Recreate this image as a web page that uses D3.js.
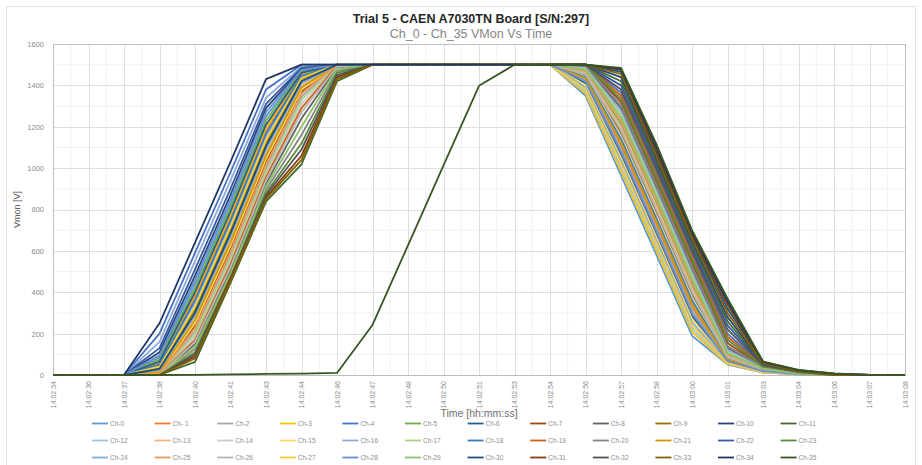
<!DOCTYPE html>
<html>
<head>
<meta charset="utf-8">
<script src="https://cdn.jsdelivr.net/npm/d3@7"></script>
<style>
  body { margin: 0; background: #fff; }
  text { font-family: "Liberation Sans", Arial, sans-serif; }
</style>
</head>
<body>
<div id="chart"></div>
<script>
// time stamps on the category axis
var times = ["14:02:34", "14:02:36", "14:02:37", "14:02:38", "14:02:40", "14:02:41", "14:02:43",
    "14:02:44", "14:02:46", "14:02:47", "14:02:48", "14:02:50", "14:02:51", "14:02:53", "14:02:54",
    "14:02:56", "14:02:57", "14:02:58", "14:03:00", "14:03:01", "14:03:03", "14:03:04", "14:03:06",
    "14:03:07", "14:03:08"];

var channelNames = ["Ch-0", "Ch- 1", "Ch-2", "Ch-3", "Ch-4", "Ch-5", "Ch-6", "Ch-7", "Ch-8", "Ch-9",
    "Ch-10", "Ch-11", "Ch-12", "Ch-13", "Ch-14", "Ch-15", "Ch-16", "Ch-17", "Ch-18", "Ch-19",
    "Ch-20", "Ch-21", "Ch-22", "Ch-23", "Ch-24", "Ch-25", "Ch-26", "Ch-27", "Ch-28", "Ch-29",
    "Ch-30", "Ch-31", "Ch-32", "Ch-33", "Ch-34", "Ch-35"];

// VMon [V], one row per channel
var vmon = [
    [0,0,0,85,440,830,1250,1470,1500,1500,1500,1500,1500,1500,1500,1350,965,580,190,50,12,3,0,0,0],
    [0,0,0,55,375,760,1180,1450,1500,1500,1500,1500,1500,1500,1500,1430,1110,725,330,72,21,5,0,0,0],
    [0,0,0,3,210,580,1000,1345,1500,1500,1500,1500,1500,1500,1500,1425,1095,710,315,70,20,5,0,0,0],
    [0,0,0,60,390,775,1195,1455,1500,1500,1500,1500,1500,1500,1500,1360,985,600,210,52,13,3,0,0,0],
    [0,0,0,200,590,980,1380,1500,1500,1500,1500,1500,1500,1500,1500,1500,1365,980,585,200,46,13,0,0,0],
    [0,0,0,75,420,810,1230,1465,1500,1500,1500,1500,1500,1500,1500,1465,1215,830,435,95,28,6,0,0,0],
    [0,0,0,65,400,790,1210,1460,1500,1500,1500,1500,1500,1500,1500,1410,1065,680,285,65,18,4,0,0,0],
    [0,0,0,8,240,610,1030,1370,1500,1500,1500,1500,1500,1500,1500,1500,1320,935,540,155,40,10,0,0,0],
    [0,0,0,0,150,505,925,1240,1485,1500,1500,1500,1500,1500,1500,1490,1290,905,510,130,36,8,0,0,0],
    [0,0,0,35,315,700,1120,1430,1500,1500,1500,1500,1500,1500,1500,1450,1170,785,390,83,25,6,0,0,0],
    [0,0,0,110,480,870,1290,1480,1500,1500,1500,1500,1500,1500,1500,1500,1440,1040,645,280,54,17,0,0,0],
    [0,0,0,0,63,445,838,1018,1420,1500,1500,1500,1500,1500,1500,1500,1420,1025,630,260,52,16,0,0,0],
    [0,0,0,45,345,730,1150,1440,1500,1500,1500,1500,1500,1500,1500,1370,1005,620,225,55,14,3,0,0,0],
    [0,0,0,20,280,655,1075,1400,1500,1500,1500,1500,1500,1500,1500,1460,1200,815,420,90,27,6,0,0,0],
    [0,0,0,0,185,550,970,1310,1500,1500,1500,1500,1500,1500,1500,1445,1155,770,375,80,24,5,0,0,0],
    [0,0,0,10,250,625,1045,1380,1500,1500,1500,1500,1500,1500,1500,1400,1050,665,270,62,17,4,0,0,0],
    [0,0,0,160,550,940,1340,1490,1500,1500,1500,1500,1500,1500,1500,1485,1275,890,495,120,34,8,0,0,0],
    [0,0,0,0,200,565,985,1330,1500,1500,1500,1500,1500,1500,1500,1480,1260,875,480,110,32,7,0,0,0],
    [0,0,0,50,360,745,1165,1445,1500,1500,1500,1500,1500,1500,1500,1440,1140,755,360,78,23,5,0,0,0],
    [0,0,0,0,170,535,955,1290,1495,1500,1500,1500,1500,1500,1500,1500,1350,965,570,185,44,12,0,0,0],
    [0,0,0,0,125,480,895,1160,1470,1500,1500,1500,1500,1500,1500,1495,1305,920,525,140,38,9,0,0,0],
    [0,0,0,15,265,640,1060,1390,1500,1500,1500,1500,1500,1500,1500,1435,1125,740,345,75,22,5,0,0,0],
    [0,0,0,130,510,900,1310,1485,1500,1500,1500,1500,1500,1500,1500,1500,1400,1010,615,240,50,15,0,0,0],
    [0,0,0,0,110,470,880,1120,1460,1500,1500,1500,1500,1500,1500,1500,1335,950,555,170,42,11,0,0,0],
    [0,0,0,25,290,670,1090,1410,1500,1500,1500,1500,1500,1500,1500,1390,1035,650,255,60,16,4,0,0,0],
    [0,0,0,5,225,595,1015,1360,1500,1500,1500,1500,1500,1500,1500,1470,1230,845,450,100,30,7,0,0,0],
    [0,0,0,0,160,520,940,1270,1490,1500,1500,1500,1500,1500,1500,1455,1185,800,405,86,26,6,0,0,0],
    [0,0,0,40,330,715,1135,1435,1500,1500,1500,1500,1500,1500,1500,1380,1020,635,240,57,15,4,0,0,0],
    [0,0,0,95,460,850,1270,1475,1500,1500,1500,1500,1500,1500,1500,1420,1080,695,300,67,19,4,0,0,0],
    [0,0,0,0,135,490,910,1200,1480,1500,1500,1500,1500,1500,1500,1475,1245,860,465,105,31,7,0,0,0],
    [0,0,0,30,300,685,1105,1420,1500,1500,1500,1500,1500,1500,1500,1500,1465,1070,670,320,60,20,5,0,0],
    [0,0,0,0,90,470,860,1060,1440,1500,1500,1500,1500,1500,1500,1500,1475,1085,680,340,62,22,6,0,0],
    [0,0,0,0,100,460,870,1090,1450,1500,1500,1500,1500,1500,1500,1500,1380,995,600,220,48,14,0,0,0],
    [0,0,0,0,80,455,850,1040,1430,1500,1500,1500,1500,1500,1500,1500,1455,1055,660,300,57,18,0,0,0],
    [0,0,0,250,640,1030,1430,1500,1500,1500,1500,1500,1500,1500,1500,1500,1480,1100,690,355,64,24,7,0,0],
    [0,0,0,0,1,3,5,7,10,242,627,1013,1398,1500,1500,1500,1485,1115,700,370,65,25,8,0,0]
];

var yTicks = [0, 200, 400, 600, 800, 1000, 1200, 1400, 1600];

// office theme colours: 6 accents, then darker / lighter variants
var accents = ["#5B9BD5", "#ED7D31", "#A5A5A5", "#FFC000", "#4472C4", "#70AD47"];
var lumMods = [[1, 0], [0.6, 0], [0.6, 0.4], [0.8, 0], [0.8, 0.2], [0.5, 0]];

function seriesColor(i) {
    var c = d3.hsl(accents[i % 6]);
    var m = lumMods[Math.floor(i / 6)];
    c.l = c.l * m[0] + m[1];
    return c.formatHex();
}

drawChart();

function drawChart() {
    var W = 922, H = 465;
    var margin = { top: 44, right: 17, bottom: 90, left: 53 };
    var width = W - margin.left - margin.right;
    var height = H - margin.top - margin.bottom;

    var svg = d3.select("#chart").append("svg")
        .attr("width", W)
        .attr("height", H);

    svg.append("rect")
        .attr("x", 6.5).attr("y", 6.5)
        .attr("width", 909).attr("height", 470)
        .attr("fill", "#fff")
        .attr("stroke", "#e3e3e3");

    svg.append("text")
        .attr("x", 471).attr("y", 23)
        .attr("text-anchor", "middle")
        .attr("font-size", "12.5px")
        .attr("font-weight", "bold")
        .attr("fill", "#262626")
        .text("Trial 5 - CAEN A7030TN Board [S/N:297]");

    svg.append("text")
        .attr("x", 471).attr("y", 37.5)
        .attr("text-anchor", "middle")
        .attr("font-size", "12.5px")
        .attr("fill", "#858585")
        .text("Ch_0 - Ch_35 VMon Vs Time");

    var g = svg.append("g")
        .attr("transform", "translate(" + margin.left + "," + margin.top + ")");

    var x = d3.scalePoint().domain(times).range([0, width]).padding(0);
    var y = d3.scaleLinear().domain([0, 1600]).range([height, 0]);

    // minor grid
    var step = x.step();
    g.append("g").selectAll("line")
        .data(times.slice(1))
        .enter().append("line")
        .attr("x1", function (d) { return x(d) - step / 2; })
        .attr("x2", function (d) { return x(d) - step / 2; })
        .attr("y1", 0).attr("y2", height)
        .attr("stroke", "#f0f0f0");
    g.append("g").selectAll("line")
        .data(yTicks.slice(1))
        .enter().append("line")
        .attr("x1", 0).attr("x2", width)
        .attr("y1", function (d) { return y(d - 100); })
        .attr("y2", function (d) { return y(d - 100); })
        .attr("stroke", "#f0f0f0");

    // major grid
    g.append("g").selectAll("line")
        .data(times)
        .enter().append("line")
        .attr("x1", function (d) { return Math.round(x(d)) + 0.5; })
        .attr("x2", function (d) { return Math.round(x(d)) + 0.5; })
        .attr("y1", 0).attr("y2", height)
        .attr("stroke", "#dedede");
    g.append("g").selectAll("line")
        .data(yTicks)
        .enter().append("line")
        .attr("x1", 0).attr("x2", width)
        .attr("y1", function (d) { return Math.round(y(d)) + 0.5; })
        .attr("y2", function (d) { return Math.round(y(d)) + 0.5; })
        .attr("stroke", "#dedede");

    g.append("rect")
        .attr("x", 0.5).attr("y", 0.5)
        .attr("width", width).attr("height", height)
        .attr("fill", "none")
        .attr("stroke", "#bdbdbd");

    // y axis
    var yAxis = g.append("g")
        .call(d3.axisLeft(y).tickValues(yTicks).tickFormat(d3.format("d")).tickSize(0).tickPadding(9));
    yAxis.select(".domain").remove();
    yAxis.selectAll("text")
        .attr("font-family", "Liberation Sans, Arial, sans-serif")
        .attr("font-size", "7.5px")
        .attr("fill", "#8c8c8c");

    // x axis
    var xAxis = g.append("g")
        .attr("transform", "translate(0," + height + ")")
        .call(d3.axisBottom(x).tickSize(0));
    xAxis.select(".domain").remove();
    xAxis.selectAll("text")
        .attr("font-family", "Liberation Sans, Arial, sans-serif")
        .attr("font-size", "7px")
        .attr("fill", "#8c8c8c")
        .attr("text-anchor", "end")
        .attr("transform", "rotate(-90)")
        .attr("x", -6)
        .attr("y", 0)
        .attr("dy", "0.32em");

    // lines
    var line = d3.line()
        .x(function (d, i) { return x(times[i]); })
        .y(function (d) { return y(d); });

    g.append("g").selectAll("path")
        .data(vmon)
        .enter().append("path")
        .attr("d", line)
        .attr("fill", "none")
        .attr("stroke", function (d, i) { return seriesColor(i); })
        .attr("stroke-width", 1.8)
        .attr("stroke-linejoin", "round");

    // axis titles
    svg.append("text")
        .attr("transform", "translate(20," + (margin.top + height / 2) + ") rotate(-90)")
        .attr("text-anchor", "middle")
        .attr("font-size", "9px")
        .attr("fill", "#595959")
        .text("Vmon [V]");

    svg.append("text")
        .attr("x", 479).attr("y", 417)
        .attr("text-anchor", "middle")
        .attr("font-size", "10.5px")
        .attr("fill", "#6e6e6e")
        .text("Time [hh:mm:ss]");

    // legend, 12 per row
    var legend = svg.append("g").selectAll("g")
        .data(channelNames)
        .enter().append("g")
        .attr("transform", function (d, i) {
            return "translate(" + (92 + (i % 12) * 62.6) + "," + (423.5 + Math.floor(i / 12) * 17) + ")";
        });
    legend.append("line")
        .attr("x1", 0).attr("x2", 16)
        .attr("stroke", function (d, i) { return seriesColor(i); })
        .attr("stroke-width", 1.8);
    legend.append("text")
        .attr("x", 18).attr("dy", "0.32em")
        .attr("font-size", "6.5px")
        .attr("fill", "#8c8c8c")
        .text(function (d) { return d; });
}
</script>
</body>
</html>
